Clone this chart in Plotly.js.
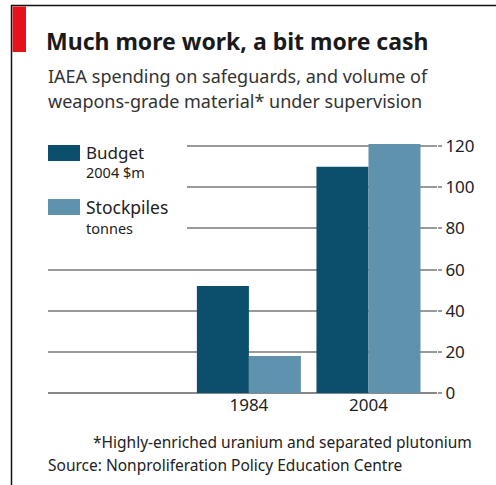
<!DOCTYPE html>
<html>
<head>
<meta charset="utf-8">
<script src="https://cdn.plot.ly/plotly-3.0.1.min.js"></script>
<style>
  html, body { margin: 0; padding: 0; background: #fff; }
  #chart { width: 496px; height: 485px; }
</style>
</head>
<body>
<div id="chart"></div>
<script>
// ---- data ----
const years = ['1984', '2004'];
const budget = [52, 110];        // 2004 $m
const stockpiles = [18, 121];    // tonnes
const yTicks = [0, 20, 40, 60, 80, 100, 120];

const budgetColor = '#0b4f6c';
const stockColor = '#5f93ad';
const FONT = 'Noto Sans, Open Sans, DejaVu Sans, sans-serif';

// plot area in pixels
const W = 496, H = 485;
const L = 48, R = 437, T = 142, B = 393;
const X = px => (px - L) / (R - L);
const Y = py => (B - py) / (B - T);

const traces = [
  { type: 'bar', name: 'Budget', x: years, y: budget,
    marker: { color: budgetColor }, hoverinfo: 'x+y' },
  { type: 'bar', name: 'Stockpiles', x: years, y: stockpiles,
    marker: { color: stockColor }, hoverinfo: 'x+y' }
];

const shapes = [
  // cover gridlines behind legend
  { type: 'rect', xref: 'paper', yref: 'y', x0: X(L - 2), x1: X(187), y0: 70, y1: 125,
    fillcolor: '#fff', line: { width: 0 }, layer: 'above' },
  // legend swatches
  { type: 'rect', xref: 'paper', yref: 'paper', x0: X(48), x1: X(80), y0: Y(161), y1: Y(145),
    fillcolor: budgetColor, line: { width: 0 }, layer: 'above' },
  { type: 'rect', xref: 'paper', yref: 'paper', x0: X(48), x1: X(80), y0: Y(215), y1: Y(199),
    fillcolor: stockColor, line: { width: 0 }, layer: 'above' },
  // frame lines
  { type: 'line', xref: 'paper', yref: 'paper', x0: X(11.5), x1: X(11.5), y0: Y(5), y1: Y(H),
    line: { color: '#111', width: 1.5 }, layer: 'above' },
  { type: 'line', xref: 'paper', yref: 'paper', x0: X(11), x1: X(W), y0: Y(5.5), y1: Y(5.5),
    line: { color: '#111', width: 1.5 }, layer: 'above' },
  // red flag
  { type: 'rect', xref: 'paper', yref: 'paper', x0: X(12.5), x1: X(26), y0: Y(52), y1: Y(6.5),
    fillcolor: '#e3121b', line: { width: 0 }, layer: 'above' }
];

function ann(text, px, py, size, color, anchor, extra) {
  return Object.assign({
    text: text, xref: 'paper', yref: 'paper', x: X(px), y: Y(py),
    xanchor: anchor || 'left', yanchor: 'middle', showarrow: false,
    font: { family: FONT, size: size, color: color || '#222' }
  }, extra || {});
}

const annotations = [
  ann('IAEA spending on safeguards, and volume of', 46, 76, 18, '#333'),
  ann('weapons-grade material* under supervision', 46, 101, 18, '#333'),
  ann('Budget', 84, 152, 17, '#222'),
  ann('2004 $m', 84, 172, 14.5, '#222'),
  ann('Stockpiles', 84, 207, 17.5, '#222'),
  ann('tonnes', 84, 228, 14.5, '#222'),
  ann('*Highly-enriched uranium and separated plutonium', 474, 442, 15.5, '#222', 'right'),
  ann('Source: Nonproliferation Policy Education Centre', 46, 465, 15.5, '#222')
];

const layout = {
  width: W, height: H,
  margin: { l: L, r: W - R, t: T, b: H - B, pad: 0 },
  paper_bgcolor: '#fff', plot_bgcolor: '#fff',
  showlegend: false,
  barmode: 'group', bargap: 0.13, bargroupgap: 0,
  title: {
    text: '<b>Much more work, a bit more cash</b>',
    xref: 'container', yref: 'container',
    x: 46 / W, xanchor: 'left', y: 1 - 42 / H, yanchor: 'middle',
    font: { family: FONT, size: 23, color: '#1a1a1a' }
  },
  xaxis: {
    type: 'category', range: [-1.68, 1.573],
    showgrid: false, zeroline: false, showline: false, ticks: '',
    tickfont: { family: FONT, size: 17, color: '#222' }
  },
  yaxis: {
    side: 'right', range: [0, 122], tickvals: yTicks,
    ticktext: yTicks.map(String),
    showgrid: true, gridcolor: '#999', gridwidth: 2,
    zeroline: true, zerolinecolor: '#888', zerolinewidth: 2,
    showline: false, ticks: 'outside', ticklen: 4, tickcolor: '#999', tickwidth: 2,
    tickfont: { family: FONT, size: 17, color: '#222' }
  },
  shapes: shapes,
  annotations: annotations
};

Plotly.newPlot('chart', traces, layout, { displayModeBar: false, staticPlot: true });
</script>
</body>
</html>
